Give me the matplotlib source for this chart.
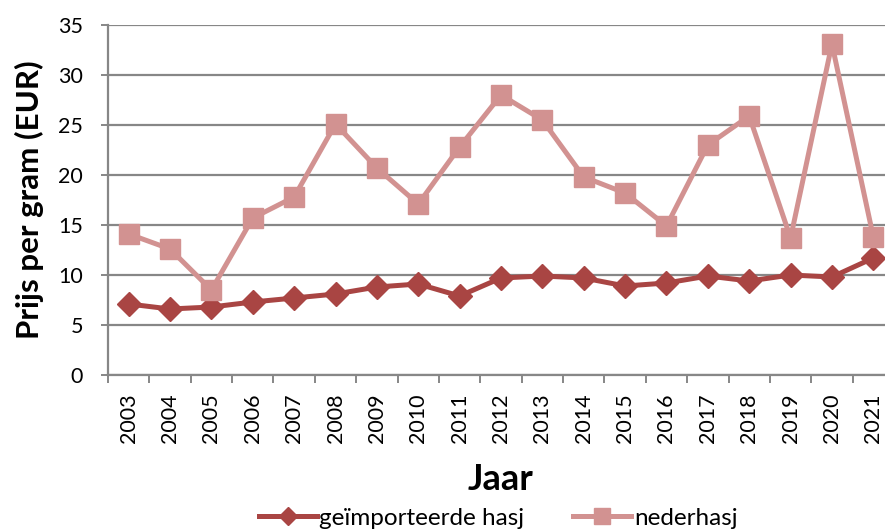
import matplotlib
matplotlib.use("Agg")
import matplotlib.pyplot as plt
import numpy as np

years = [str(y) for y in range(2003, 2022)]
geimporteerde = [7.1, 6.6, 6.8, 7.3, 7.7, 8.1, 8.8, 9.1, 7.9, 9.7, 9.9, 9.7, 8.9, 9.2, 9.9, 9.4, 10.0, 9.8, 11.7]
nederhasj = [14.1, 12.6, 8.5, 15.7, 17.8, 25.1, 20.7, 17.1, 22.8, 28.0, 25.5, 19.8, 18.2, 14.9, 23.0, 25.9, 13.7, 33.1, 13.8]
yticks = [0, 5, 10, 15, 20, 25, 30, 35]

c_imp = "#A94543"
c_ned = "#D29291"
grid_c = "#878787"

fig = plt.figure(figsize=(8.85, 5.3), dpi=100)
ax = fig.add_axes([108/885, 1-375/530, (894-108)/885, 350/530])
x = np.arange(len(years))

ax.plot(x, geimporteerde, color=c_imp, lw=3.6, marker="D", ms=12, label="geïmporteerde hasj", zorder=3)
ax.plot(x, nederhasj, color=c_ned, lw=3.6, marker="s", ms=14.5, label="nederhasj", zorder=3)

ax.set_xlim(-0.5, len(years)-0.5)
ax.set_ylim(0, 35)
ax.set_yticks(yticks)
ax.yaxis.grid(True, color=grid_c, lw=1.6)
ax.set_axisbelow(True)
for s in ["top", "right"]:
    ax.spines[s].set_visible(False)
for s in ["left", "bottom"]:
    ax.spines[s].set_color(grid_c)
    ax.spines[s].set_linewidth(1.6)

ax.set_xticks(x)
ax.set_xticklabels(years, rotation=90, fontsize=15.5, family="Lato")
ax.set_xticks(np.arange(-0.5, len(years)), minor=True)
ax.tick_params(axis="x", which="major", length=0, pad=13)
ax.tick_params(axis="x", which="minor", length=6, width=1.4, color=grid_c, direction="out")
ax.tick_params(axis="y", length=5, width=1.4, color=grid_c, labelsize=15.5, pad=13)
for lab in ax.get_yticklabels():
    lab.set_family("Lato")

ax.set_ylabel("Prijs per gram (EUR)", fontsize=22.5, fontweight="bold", family="Lato")
ax.yaxis.set_label_coords((29-108)/786, 0.5)
ax.yaxis.label.set_va("center")
ax.set_xlabel("Jaar", fontsize=26, fontweight="bold", family="Lato")
ax.xaxis.set_label_coords((500-108)/786, (375-480)/350)
ax.xaxis.label.set_va("center")

leg = fig.legend(loc="center", bbox_to_anchor=(498/885, 1-518/530), ncol=2, frameon=False,
                 prop={"family": "Lato", "size": 17.5}, handlelength=2.4, handletextpad=0.1,
                 columnspacing=2.0, markerscale=0.75, borderpad=0)

fig.savefig("out.png", dpi=100)
